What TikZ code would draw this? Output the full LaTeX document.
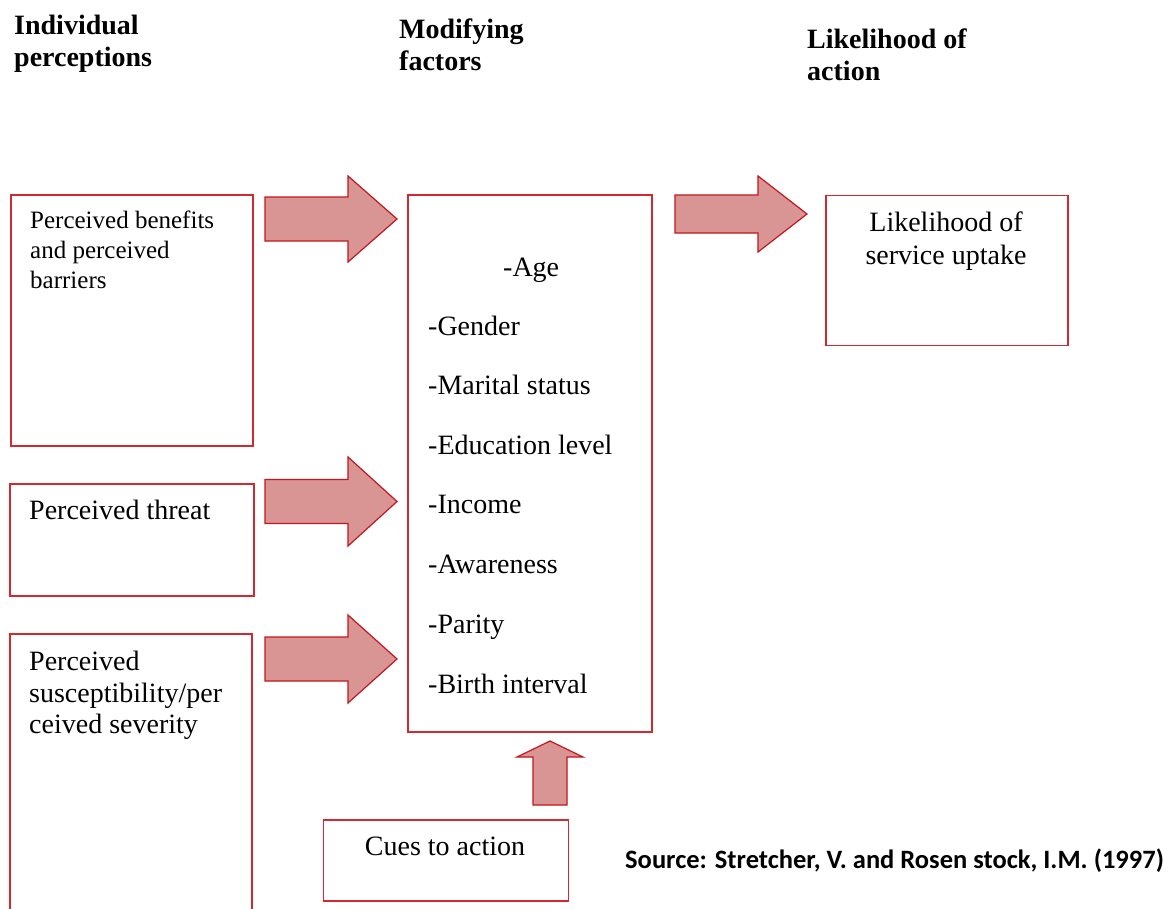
\documentclass[tikz,border=0pt]{standalone}
\usepackage{fontspec}
\setmainfont{Liberation Serif}
\newfontfamily\srcfont{Carlito}
\definecolor{boxred}{RGB}{212,40,48}
\definecolor{arrfill}{RGB}{217,149,148}
\definecolor{arrline}{RGB}{196,22,28}
\newcommand{\blockR}[7]{% name, tip x, tip y, total length, head length, head half, shaft half
  \draw[blk] (#2,#3) coordinate (#1) -- ++(-#5,-#6) -- ++(0,#6-#7) -- ++(#5-#4,0) -- ++(0,2*#7) -- ++(#4-#5,0) -- ++(0,#6-#7) -- cycle;}
\newcommand{\blockU}[7]{% name, tip x, tip y, total length, head length, head half, shaft half
  \draw[blk] (#2,#3) coordinate (#1) -- ++(#6,#5) -- ++(#7-#6,0) -- ++(0,#4-#5) -- ++(-2*#7,0) -- ++(0,#5-#4) -- ++(#7-#6,0) -- cycle;}
\begin{document}
\begin{tikzpicture}[x=1pt,y=-1pt,
  box/.style={draw=boxred, line width=1.6pt, inner sep=0pt, anchor=north west},
  blk/.style={fill=arrfill, draw=arrline, line width=1.2pt, line join=miter},
  txt/.style={inner sep=0pt, anchor=base west, font=\fontsize{28}{32}\selectfont},
  txtc/.style={inner sep=0pt, anchor=base, font=\fontsize{28}{32}\selectfont},
  stxt/.style={inner sep=0pt, anchor=base west, font=\fontsize{25}{30}\selectfont},
  head/.style={inner sep=0pt, anchor=base west, font=\fontsize{28}{32}\selectfont\bfseries},
  src/.style={inner sep=0pt, anchor=base west, font=\fontsize{26.5}{30}\srcfont\bfseries}]
\useasboundingbox[fill=white] (0,0) rectangle (1172,908);
\clip (0,0) rectangle (1172,908);

% headers
\node[head] (h1a) at (14,34) {Individual};
\node[head] (h1b) at (14,66) {perceptions};
\node[head] (h2a) at (399,38) {Modifying};
\node[head] (h2b) at (399,70) {factors};
\node[head] (h3a) at (807,48) {Likelihood of};
\node[head] (h3b) at (807,80) {action};

% boxes
\node[box, minimum width=242pt, minimum height=251pt] (b1) at (10,194) {};
\node[box, minimum width=244pt, minimum height=112pt] (b2) at (9,483) {};
\node[box, minimum width=242pt, minimum height=320pt] (b3) at (9,633) {};
\node[box, minimum width=244pt, minimum height=537pt] (mf) at (407,194) {};
\node[box, minimum width=242pt, minimum height=150pt] (lk) at (825,194.5) {};
\node[box, minimum width=245pt, minimum height=81pt] (cu) at (322.5,819) {};

% box texts
\node[stxt] (t1a) at (30,228) {Perceived benefits};
\node[stxt] (t1b) at (30,258) {and perceived};
\node[stxt] (t1c) at (30,288) {barriers};
\node[txt] (t2) at (29,519) {Perceived threat};
\node[txt] (t3a) at (29,670) {Perceived};
\node[txt] (t3b) at (29,702) {susceptibility/per};
\node[txt] (t3c) at (29,733) {ceived severity};

\node[txt] (m1) at (503,276) {-Age};
\node[txt] (m2) at (428,335) {-Gender};
\node[txt] (m3) at (428,394) {-Marital status};
\node[txt] (m4) at (428,454) {-Education level};
\node[txt] (m5) at (428,513) {-Income};
\node[txt] (m6) at (428,573) {-Awareness};
\node[txt] (m7) at (428,633) {-Parity};
\node[txt] (m8) at (428,693) {-Birth interval};

\node[txtc] (l1) at (946,231) {Likelihood of};
\node[txtc] (l2) at (946,264) {service uptake};
\node[txtc] (c1) at (445,855) {Cues to action};

\node[src] (s) at (625,868) {Source: Stretcher, V. and Rosen stock, I.M. (1997)};

% block arrows
\blockR{a1}{397}{219}{132}{49}{43}{22}
\blockR{a2}{397}{501.5}{132}{49}{44.5}{22}
\blockR{a3}{397}{659}{132}{49}{44}{22}
\blockR{a4}{807}{214}{132}{49}{38}{19}
\blockU{a5}{550}{741}{64}{16}{33}{17}
\end{tikzpicture}
\end{document}
